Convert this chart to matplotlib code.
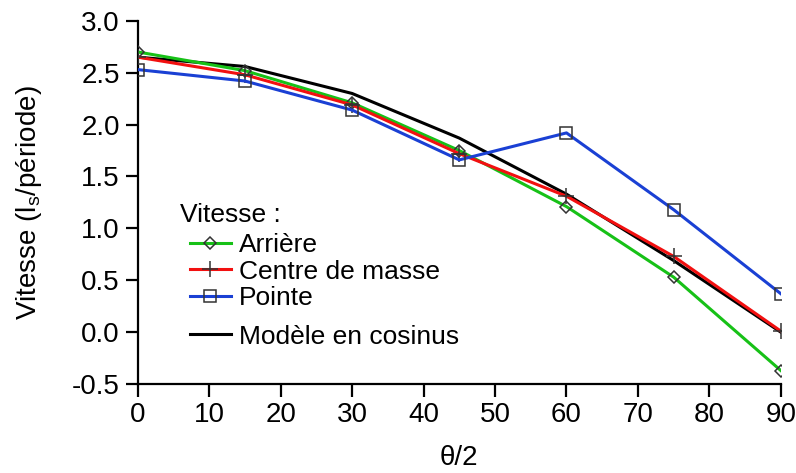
import matplotlib
matplotlib.use('Agg')
import matplotlib.pyplot as plt
from matplotlib.lines import Line2D

plt.rcParams['font.family'] = ['Liberation Sans', 'DejaVu Sans']
plt.rcParams['mathtext.fontset'] = 'custom'
plt.rcParams['mathtext.rm'] = 'Liberation Sans'
plt.rcParams['mathtext.it'] = 'Liberation Sans'
plt.rcParams['axes.unicode_minus'] = False

# --- data ---
angles = [0, 15, 30, 45, 60, 75, 90]
arriere = [2.70, 2.52, 2.21, 1.75, 1.21, 0.53, -0.37]
centre = [2.65, 2.48, 2.19, 1.72, 1.31, 0.73, 0.01]
pointe = [2.53, 2.42, 2.14, 1.66, 1.92, 1.18, 0.37]
modele = [2.65, 2.56, 2.30, 1.87, 1.33, 0.69, 0.00]

xticks = [0, 10, 20, 30, 40, 50, 60, 70, 80, 90]
yticks = [-0.5, 0.0, 0.5, 1.0, 1.5, 2.0, 2.5, 3.0]

fig = plt.figure(figsize=(7.96, 4.73), dpi=100)
ax = fig.add_axes([0.173, 0.188, 0.808, 0.768])

lw = 2.2
mk = dict(markerfacecolor='none', markeredgecolor='#333333', markeredgewidth=1.1)
ax.plot(angles, modele, color='black', lw=lw, zorder=2)
l1, = ax.plot(angles, arriere, color='#17c117', lw=lw, marker='D', markersize=6.5, **mk, zorder=3)
l2, = ax.plot(angles, centre, color='#f21010', lw=lw, marker='+', markersize=11, **mk, zorder=3)
l3, = ax.plot(angles, pointe, color='#1a40d4', lw=lw, marker='s', markersize=8.5, **mk, zorder=3)

ax.set_xlim(0, 90)
ax.set_ylim(-0.5, 3.0)
ax.set_xticks(xticks)
ax.set_yticks(yticks)
ax.set_yticklabels(['%.1f' % v for v in yticks])
for s in ['top', 'right']:
    ax.spines[s].set_visible(False)
for s in ['left', 'bottom']:
    ax.spines[s].set_linewidth(1.6)
ax.tick_params(direction='out', length=9, width=1.6, labelsize=20, pad=4)

ax.set_xlabel('θ/2', fontsize=20, labelpad=12)
ax.set_ylabel('Vitesse (l$_\\mathrm{s}$/période)', fontsize=20, labelpad=20)

# legend: title as plain text, then the three measured series, then the model
ax.text(0.065, 0.466, 'Vitesse :', transform=ax.transAxes, fontsize=19, va='center', ha='left')
leg1 = ax.legend([l1, l2, l3], ['Arrière', 'Centre de masse', 'Pointe'],
                 fontsize=19, loc='upper left', bbox_to_anchor=(0.081, 0.415),
                 frameon=False, borderpad=0, borderaxespad=0, handlelength=1.55,
                 handletextpad=0.3, labelspacing=0.09)
ax.add_artist(leg1)
black = Line2D([], [], color='black', lw=lw)
ax.legend([black], ['Modèle en cosinus'], fontsize=19, loc='upper left',
          bbox_to_anchor=(0.081, 0.164), frameon=False, borderpad=0, borderaxespad=0,
          handlelength=1.55, handletextpad=0.3)

fig.savefig('out.png', dpi=100)
